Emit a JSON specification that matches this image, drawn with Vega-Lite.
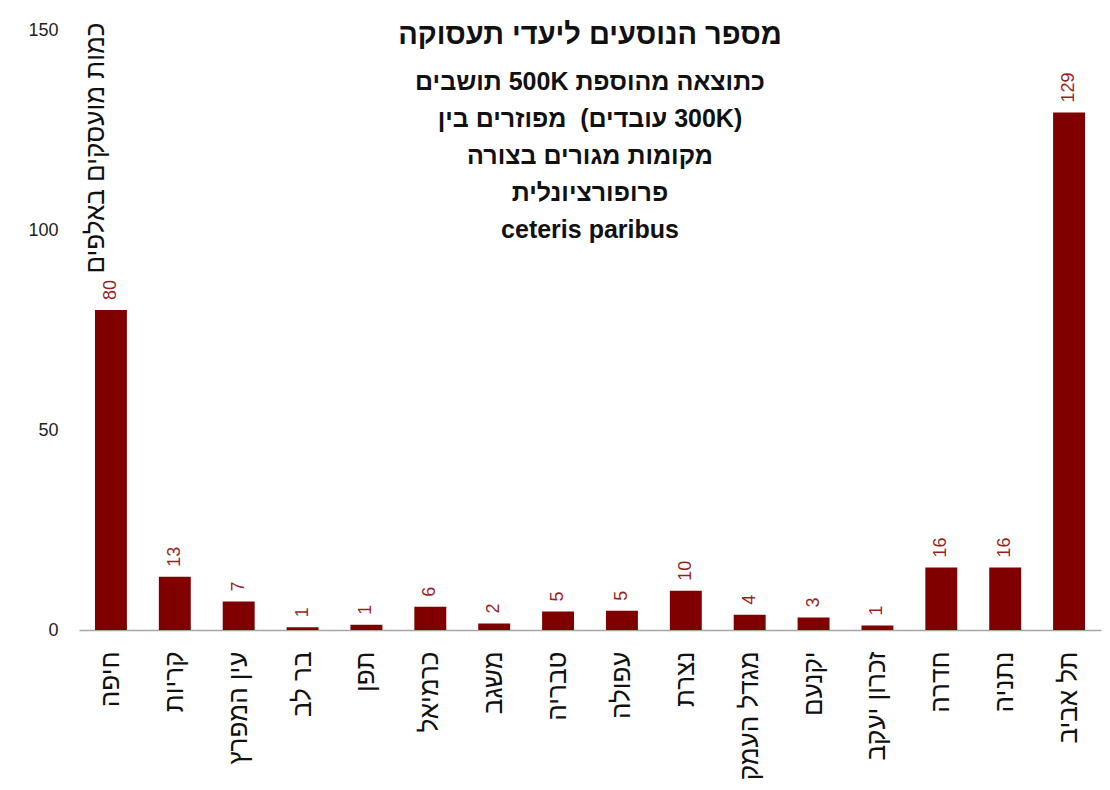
{
  "$schema": "https://vega.github.io/schema/vega-lite/v6.json",
  "width": 1022,
  "height": 600,
  "autosize": "none",
  "padding": {"left": 79, "top": 30, "right": 9, "bottom": 160},
  "background": "white",
  "config": {"view": {"stroke": null}, "font": "Liberation Sans"},
  "title": {
    "text": "\u202Bמספר הנוסעים ליעדי תעסוקה\u202C",
    "subtitle": [
      "\u202Bכתוצאה מהוספת 500K תושבים\u202C",
      "\u202B(300K עובדים)\u00A0 מפוזרים בין\u202C",
      "\u202Bמקומות מגורים בצורה\u202C",
      "\u202Bפרופורציונלית\u202C",
      "ceteris paribus"
    ],
    "anchor": "middle",
    "orient": "top",
    "offset": -222,
    "font": "Liberation Sans",
    "fontSize": 29,
    "fontWeight": "bold",
    "color": "#111111",
    "subtitleFont": "Liberation Sans",
    "subtitleFontSize": 25,
    "subtitleFontWeight": "bold",
    "subtitleColor": "#111111",
    "subtitleLineHeight": 37,
    "subtitlePadding": 20
  },
  "data": {
    "values": [
      {"city": "חיפה", "value": 80},
      {"city": "קריות", "value": 13.3},
      {"city": "עין המפרץ", "value": 7.1},
      {"city": "בר לב", "value": 0.7},
      {"city": "תפן", "value": 1.3},
      {"city": "כרמיאל", "value": 5.8},
      {"city": "משגב", "value": 1.6},
      {"city": "טבריה", "value": 4.6},
      {"city": "עפולה", "value": 4.8},
      {"city": "נצרת", "value": 9.8},
      {"city": "מגדל העמק", "value": 3.8},
      {"city": "יקנעם", "value": 3.1},
      {"city": "זכרון יעקב", "value": 1.1},
      {"city": "חדרה", "value": 15.6},
      {"city": "נתניה", "value": 15.6},
      {"city": "תל אביב", "value": 129.4}
    ]
  },
  "encoding": {
    "x": {
      "field": "city",
      "type": "nominal",
      "sort": null,
      "scale": {"paddingInner": 0.5, "paddingOuter": 0.25},
      "axis": {
        "title": null,
        "labelAngle": -90,
        "labelAlign": "right",
        "labelBaseline": "middle",
        "labelFontSize": 26,
        "labelColor": "#111111",
        "labelPadding": 21,
        "ticks": false,
        "domainColor": "#A6A6A6",
        "domainWidth": 1.5,
        "labelFont": "Liberation Sans"
      }
    },
    "y": {
      "field": "value",
      "type": "quantitative",
      "scale": {"domain": [0, 150], "nice": false},
      "axis": {
        "values": [0, 50, 100, 150],
        "title": "כמות מועסקים באלפים",
        "titleFont": "Liberation Sans",
        "titleFontSize": 26,
        "titleFontWeight": "normal",
        "titleColor": "#111111",
        "titleAngle": -90,
        "titleAlign": "right",
        "titleBaseline": "middle",
        "titleX": 16,
        "titleY": -8,
        "grid": false,
        "domain": false,
        "ticks": false,
        "labelPadding": 21,
        "labelFontSize": 18,
        "labelColor": "#222222",
        "labelFont": "Liberation Sans"
      }
    }
  },
  "layer": [
    {"mark": {"type": "bar", "color": "#800000"}},
    {
      "mark": {
        "type": "text",
        "angle": 270,
        "align": "left",
        "baseline": "middle",
        "dx": 10,
        "fontSize": 18,
        "color": "#9C1F1F",
        "font": "Liberation Sans"
      },
      "encoding": {"text": {"field": "value", "type": "quantitative", "format": ".0f"}}
    }
  ]
}
